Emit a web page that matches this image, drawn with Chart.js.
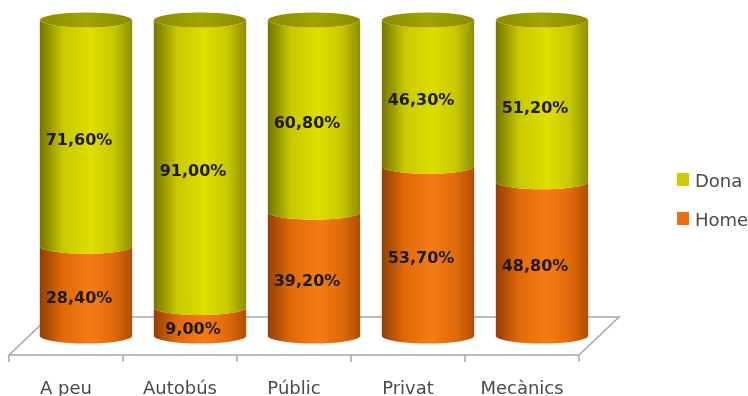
<!DOCTYPE html>
<html>
<head>
<meta charset="utf-8">
<script src="https://cdn.jsdelivr.net/npm/chart.js@4.4.1/dist/chart.umd.min.js"></script>
<style>
  html, body { margin: 0; padding: 0; background: #fff; }
  #wrap { width: 748px; height: 396px; }
</style>
</head>
<body>
<div id="wrap"><canvas id="graph" width="748" height="396"></canvas></div>
<script>
const categories = ['A peu', 'Autobús', 'Públic', 'Privat', 'Mecànics'];
const home = [28.4, 9.0, 39.2, 53.7, 48.8];
const dona = [71.6, 91.0, 60.8, 46.3, 51.2];

// cylinder shading per series: left edge, mid, highlight, right edge, top cap
const shades = {
    Home: ['#943e04', '#e06a0a', '#f57c14', '#b04e06', '#f08020'],
    Dona: ['#747400', '#c8c800', '#dede00', '#8e8e00', '#a2a200']
};
const legendSwatch = { Dona: '#cccc00', Home: '#e87010' };

const DEPTH_X = 20;   // half depth of the floor
const DEPTH_Y = 19;
const RY = 7.5;       // ellipse half height

function fmt(v) {
    return v.toFixed(2).replace('.', ',') + '%';
}

function bodyGradient(ctx, x, w, s) {
    const g = ctx.createLinearGradient(x - w / 2, 0, x + w / 2, 0);
    g.addColorStop(0, s[0]);
    g.addColorStop(0.25, s[1]);
    g.addColorStop(0.55, s[2]);
    g.addColorStop(0.8, s[1]);
    g.addColorStop(1, s[3]);
    return g;
}

const floor3d = {
    id: 'floor3d',
    beforeDatasetsDraw(chart) {
        const ctx = chart.ctx;
        const a = chart.chartArea;
        const base = chart.scales.y.getPixelForValue(0);
        const fl = a.left - DEPTH_X, fr = a.right - DEPTH_X, fy = base + DEPTH_Y;
        const bl = a.left + DEPTH_X, br = a.right + DEPTH_X, by = base - DEPTH_Y;
        ctx.save();
        ctx.strokeStyle = '#a6a6a6';
        ctx.lineWidth = 1.5;
        ctx.beginPath();
        ctx.moveTo(fl, fy);
        ctx.lineTo(fr, fy);
        ctx.lineTo(br, by);
        ctx.lineTo(bl, by);
        ctx.closePath();
        ctx.stroke();
        // ticks on the front edge
        const step = (a.right - a.left) / categories.length;
        ctx.beginPath();
        for (let i = 0; i <= categories.length; i++) {
            const tx = fl + i * step;
            ctx.moveTo(tx, fy);
            ctx.lineTo(tx, fy + 7);
        }
        ctx.stroke();
        // category labels
        ctx.fillStyle = '#4a4a4a';
        ctx.font = '18px "DejaVu Sans"';
        ctx.textAlign = 'center';
        ctx.textBaseline = 'alphabetic';
        categories.forEach((c, i) => {
            const cx = chart.scales.x.getPixelForValue(i) - DEPTH_X;
            ctx.fillText(c, cx, 394);
        });
        ctx.restore();
    },
    afterDatasetsDraw(chart) {
        const ctx = chart.ctx;
        const n = chart.data.datasets.length;
        ctx.save();
        for (let d = 0; d < n; d++) {
            const ds = chart.data.datasets[d];
            const s = shades[ds.label];
            chart.getDatasetMeta(d).data.forEach((bar) => {
                const { x, y, base, width } = bar.getProps(['x', 'y', 'base', 'width'], true);
                const rx = width / 2;
                ctx.beginPath();
                ctx.moveTo(x - rx, y);
                ctx.lineTo(x - rx, base);
                ctx.ellipse(x, base, rx, RY, 0, Math.PI, 0, true);
                ctx.lineTo(x + rx, y);
                ctx.ellipse(x, y, rx, RY, 0, 0, Math.PI, false);
                ctx.closePath();
                ctx.fillStyle = bodyGradient(ctx, x, width, s);
                ctx.fill();
                if (d === n - 1) {
                    ctx.beginPath();
                    ctx.ellipse(x, y, rx, RY, 0, 0, Math.PI * 2);
                    const g = ctx.createLinearGradient(x - rx, 0, x + rx, 0);
                    g.addColorStop(0, '#8c8c00');
                    g.addColorStop(0.5, s[4]);
                    g.addColorStop(1, '#8c8c00');
                    ctx.fillStyle = g;
                    ctx.fill();
                }
            });
        }
        // value labels
        ctx.fillStyle = '#1a1a1a';
        ctx.font = 'bold 16px "DejaVu Sans"';
        ctx.textAlign = 'center';
        ctx.textBaseline = 'middle';
        for (let d = 0; d < n; d++) {
            const vals = chart.data.datasets[d].data;
            chart.getDatasetMeta(d).data.forEach((bar, i) => {
                const { x, y, base } = bar.getProps(['x', 'y', 'base'], true);
                ctx.fillText(fmt(vals[i]), x - 7, (y + base) / 2 + 8);
            });
        }
        // legend, top series first
        ctx.font = '18px "DejaVu Sans"';
        ctx.textAlign = 'left';
        ctx.textBaseline = 'alphabetic';
        for (let d = n - 1, row = 0; d >= 0; d--, row++) {
            const lbl = chart.data.datasets[d].label;
            const ly = 173 + row * 39;
            ctx.fillStyle = legendSwatch[lbl];
            ctx.fillRect(677, ly, 12, 13);
            ctx.fillStyle = '#4a4a4a';
            ctx.fillText(lbl, 695, ly + 14);
        }
        ctx.restore();
    }
};

new Chart(document.getElementById('graph'), {
    type: 'bar',
    data: {
        labels: categories,
        datasets: [
            { label: 'Home', data: home, backgroundColor: 'rgba(0,0,0,0)' },
            { label: 'Dona', data: dona, backgroundColor: 'rgba(0,0,0,0)' }
        ]
    },
    options: {
        responsive: false,
        animation: false,
        events: [],
        layout: { padding: { top: 20, bottom: 60, left: 29, right: 149 } },
        datasets: { bar: { categoryPercentage: 1, barPercentage: 0.81 } },
        scales: {
            x: { stacked: true, display: false },
            y: { stacked: true, display: false, min: 0, max: 100 }
        },
        plugins: { legend: { display: false }, tooltip: { enabled: false } }
    },
    plugins: [floor3d]
});
</script>
</body>
</html>
